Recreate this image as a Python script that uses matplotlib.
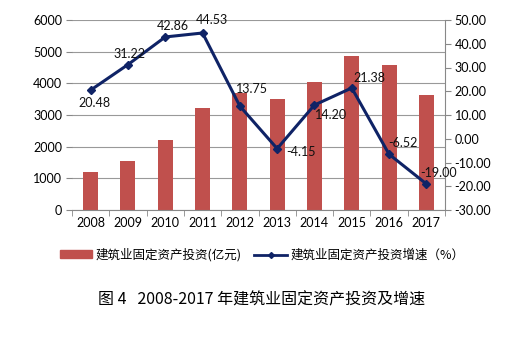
import matplotlib
matplotlib.use("Agg")
import matplotlib.pyplot as plt
from matplotlib.lines import Line2D
from matplotlib.patches import Patch

years = ["2008", "2009", "2010", "2011", "2012", "2013", "2014", "2015", "2016", "2017"]
investment = [1190, 1550, 2220, 3230, 3680, 3520, 4030, 4870, 4570, 3640]
growth = [20.48, 31.22, 42.86, 44.53, 13.75, -4.15, 14.20, 21.38, -6.52, -19.00]
growth_labels = ["20.48", "31.22", "42.86", "44.53", "13.75", "-4.15", "14.20", "21.38", "-6.52", "-19.00"]
left_ticks = [0, 1000, 2000, 3000, 4000, 5000, 6000]
right_ticks = [-30, -20, -10, 0, 10, 20, 30, 40, 50]
bar_name = "建筑业固定资产投资(亿元)"
line_name = "建筑业固定资产投资增速（%）"
title = "图 4   2008-2017 年建筑业固定资产投资及增速"

plt.rcParams['font.family'] = ['Lato', 'Noto Sans CJK SC', 'DejaVu Sans']

fig = plt.figure(figsize=(5.27, 3.40), dpi=100)
ax = fig.add_axes([72/527, 130/340, (445-72)/527, 190/340])
x = list(range(len(years)))
bar_color = "#c0504d"
line_color = "#0f2366"

ax.bar(x, investment, width=0.4, color=bar_color, zorder=2)
ax.set_ylim(0, 6000)
ax.set_xlim(-0.5, len(years) - 0.5)
ax.set_yticks(left_ticks)
ax.set_yticklabels([str(t) for t in left_ticks], fontsize=9)
ax.set_xticks(x)
ax.set_xticklabels(years, fontsize=9)
ax.set_xticks([i + 0.5 for i in range(-1, len(years))], minor=True)
ax.tick_params(axis='x', which='major', length=0, pad=5)
ax.tick_params(axis='x', which='minor', length=4, color="#888888", direction='out')
ax.tick_params(axis='y', length=4, color="#888888", pad=3)
ax.grid(axis='y', color="#999999", linewidth=0.8, zorder=0)
for s in ['top', 'right', 'left']:
    ax.spines[s].set_visible(False)
ax.spines['bottom'].set_color("#888888")

ax2 = ax.twinx()
ax2.plot(x, growth, color=line_color, linewidth=2.2, marker='D', markersize=4.5, zorder=5)
ax2.set_ylim(-30, 50)
ax2.set_yticks(right_ticks)
ax2.set_yticklabels(["%.2f" % t for t in right_ticks], fontsize=9)
ax2.tick_params(axis='y', length=4, color="#888888", pad=3)
for s in ['top', 'left', 'bottom']:
    ax2.spines[s].set_visible(False)
ax2.spines['right'].set_color("#888888")

offsets = [(4, -13), (2, 11), (8, 11), (9, 13), (12, 17), (24, -3), (17, -10), (18, 10), (14, 11), (12, 11)]
for xi, yi, lab, (dx, dy) in zip(x, growth, growth_labels, offsets):
    ax2.annotate(lab, (xi, yi), xytext=(dx, dy), textcoords='offset pixels',
                 ha='center', va='center', fontsize=9, color="#111111", zorder=6)

handles = [Patch(color=bar_color), Line2D([0], [0], color=line_color, linewidth=2, marker='D', markersize=3)]
fig.legend(handles, [bar_name, line_name], loc='center', bbox_to_anchor=(262/527, 1 - 255/340),
           ncol=2, frameon=False, handlelength=2.6, handleheight=0.6, columnspacing=1.0,
           handletextpad=0.3, prop={'family': ['Noto Sans CJK SC', 'DejaVu Sans'], 'size': 9})
fig.text(262/527, 1 - 300/340, title, ha='center', va='center', fontsize=11.5,
         family=['Noto Sans CJK SC', 'DejaVu Sans'])

fig.savefig("out.png", dpi=100)
